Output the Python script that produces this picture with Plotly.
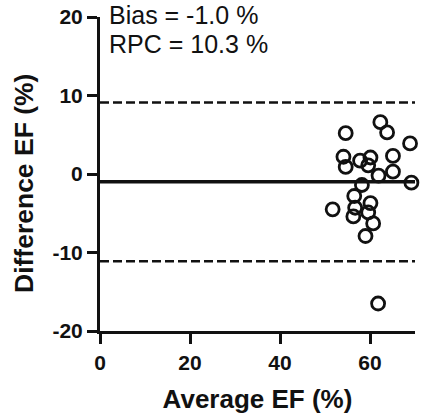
import plotly.graph_objects as go

avg_ef = [62.3, 63.8, 54.6, 68.9, 54.1, 57.8, 60.1, 65.1, 54.6, 59.6, 65.1, 61.9,
          69.2, 58.2, 56.5, 60.1, 51.7, 56.7, 56.3, 59.6, 60.7, 59.0, 61.8]
diff_ef = [6.6, 5.3, 5.2, 3.9, 2.2, 1.7, 2.1, 2.3, 0.9, 1.1, 0.3, -0.2,
           -1.1, -1.4, -2.8, -3.7, -4.5, -4.3, -5.4, -4.9, -6.3, -7.9, -16.5]
bias = -1.0
upper_loa = 9.1
lower_loa = -11.1
line_x = [0, 70]
x_ticks = [0, 20, 40, 60]
y_ticks = [-20, -10, 0, 10, 20]
ann_lines = ["Bias = -1.0 %", "RPC = 10.3 %"]
x_title = "Average EF (%)"
y_title = "Difference EF (%)"

FONT = "Liberation Sans, Arial, sans-serif"
INK = "#111111"
DASH = "9px,4px"

fig = go.Figure()
fig.add_trace(go.Scatter(x=line_x, y=[upper_loa, upper_loa], mode="lines",
                         line=dict(color=INK, width=2.5, dash=DASH),
                         showlegend=False, hoverinfo="skip"))
fig.add_trace(go.Scatter(x=line_x, y=[lower_loa, lower_loa], mode="lines",
                         line=dict(color=INK, width=2.5, dash=DASH),
                         showlegend=False, hoverinfo="skip"))
fig.add_trace(go.Scatter(x=line_x, y=[bias, bias], mode="lines",
                         line=dict(color=INK, width=3.5),
                         showlegend=False, hoverinfo="skip"))
fig.add_trace(go.Scatter(x=avg_ef, y=diff_ef, mode="markers",
                         marker=dict(symbol="circle-open", size=13, color=INK,
                                     line=dict(width=2.8, color=INK)),
                         cliponaxis=False, showlegend=False))

fig.update_layout(
    width=436, height=414,
    margin=dict(l=100, r=21, t=17, b=83),
    paper_bgcolor="white", plot_bgcolor="white",
    font=dict(family=FONT, color=INK),
    xaxis=dict(range=[0, 70], tickvals=x_ticks,
               ticktext=[f"<b>{v}</b>" for v in x_ticks],
               showline=True, linewidth=3, automargin=False,
               linecolor=INK, ticks="outside", ticklen=10, tickwidth=3,
               tickcolor=INK, showgrid=False, zeroline=False,
               ticklabelstandoff=1,
               tickfont=dict(size=21, family=FONT),
               title=dict(text=f"<b>{x_title}</b>", font=dict(size=26),
                          standoff=17)),
    yaxis=dict(range=[-20, 20], tickvals=y_ticks,
               ticktext=[f"<b>{v}</b>" for v in y_ticks],
               showline=True, linewidth=3, automargin=False,
               linecolor=INK, ticks="outside", ticklen=10, tickwidth=3,
               tickcolor=INK, showgrid=False, zeroline=False,
               tickfont=dict(size=21, family=FONT)),
)

fig.add_annotation(text=f"<b>{y_title}</b>", xref="paper", yref="paper",
                   x=(24 - 100) / 315, y=(331 - 184) / 314, textangle=-90,
                   xanchor="center", yanchor="middle", showarrow=False,
                   font=dict(size=26.5, color=INK, family=FONT))
fig.add_annotation(text=ann_lines[0], xref="paper", yref="paper", x=0.022, y=1.006,
                   xanchor="left", yanchor="middle", showarrow=False,
                   font=dict(size=25, color=INK, family=FONT))
fig.add_annotation(text=ann_lines[1], xref="paper", yref="paper", x=0.022, y=0.914,
                   xanchor="left", yanchor="middle", showarrow=False,
                   font=dict(size=25, color=INK, family=FONT))

fig.write_html("out.html")
